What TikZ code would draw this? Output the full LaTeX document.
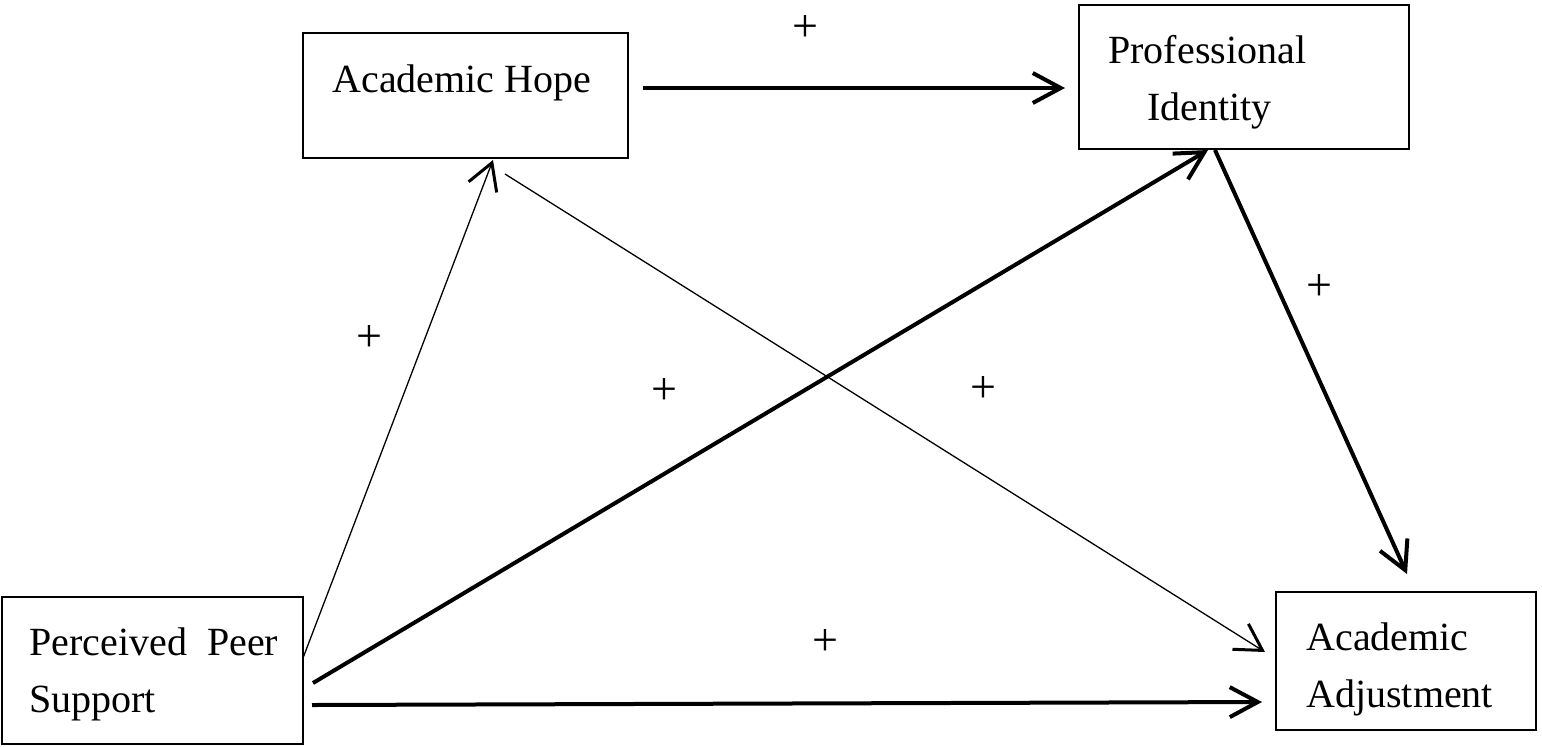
\documentclass[tikz,border=0pt]{standalone}
\usepackage{fontspec}
\setmainfont{Liberation Serif}
\usetikzlibrary{arrows.meta}
\begin{document}
\begin{tikzpicture}[x=0.5pt,y=-0.5pt,
  box/.style={draw,line width=1pt,inner sep=0pt,minimum width=#1},
  lbl/.style={anchor=base west,inner sep=0pt,font=\fontsize{20}{24}\selectfont},
  plus/.style={inner sep=0pt,font=\fontsize{23}{26}\selectfont},
  thickarr/.style={line width=2pt,-{Straight Barb[length=14pt,width=15pt,line width=2pt]}},
  thinarr/.style={line width=0.65pt,-{Straight Barb[length=13pt,width=15pt,line width=1.5pt]}}]
\useasboundingbox (0,0) rectangle (1542,746);
% boxes
\node[box=162.5pt,minimum height=62.5pt] (ah) at (465.5,95.5) {};
\node[box=165pt,minimum height=72pt] (pi) at (1244,77) {};
\node[box=150.5pt,minimum height=73.5pt] (pps) at (152.5,670.5) {};
\node[box=130pt,minimum height=69pt] (aa) at (1406,661) {};
% texts
\node[lbl] (tah) at (332,92) {Academic Hope};
\node[lbl] (tpi1) at (1108,63) {Professional};
\node[lbl] (tpi2) at (1147,120) {Identity};
\node[lbl] (tpps1) at (29,655) {Perceived\ \ Peer};
\node[lbl] (tpps2) at (29,712) {Support};
\node[lbl] (taa1) at (1306,650) {Academic};
\node[lbl] (taa2) at (1306,707) {Adjustment};
% connector ends
\coordinate (ahR) at (643,88);
\coordinate (piL) at (1065,88);
\coordinate (ppsA) at (303,658);
\coordinate (ahB) at (493,160);
\coordinate (ahC) at (505,174);
\coordinate (aaA) at (1265,652);
\coordinate (ppsB) at (313,683);
\coordinate (piB) at (1208,150);
\coordinate (piC) at (1215,150);
\coordinate (aaT) at (1407,574);
\coordinate (ppsC) at (312,705);
\coordinate (aaL) at (1262,702);
% connectors
\draw[thickarr] (ahR) -- (piL);
\draw[thinarr] (ppsA) -- (ahB);
\draw[thinarr] (ahC) -- (aaA);
\draw[thickarr] (ppsB) -- (piB);
\draw[thickarr] (piC) -- (aaT);
\draw[thickarr] (ppsC) -- (aaL);
% signs
\node[plus] (p1) at (805,28) {+};
\node[plus] (p2) at (369,338) {+};
\node[plus] (p3) at (664,391) {+};
\node[plus] (p4) at (983,389) {+};
\node[plus] (p5) at (1319,287) {+};
\node[plus] (p6) at (825,642) {+};
\end{tikzpicture}
\end{document}
